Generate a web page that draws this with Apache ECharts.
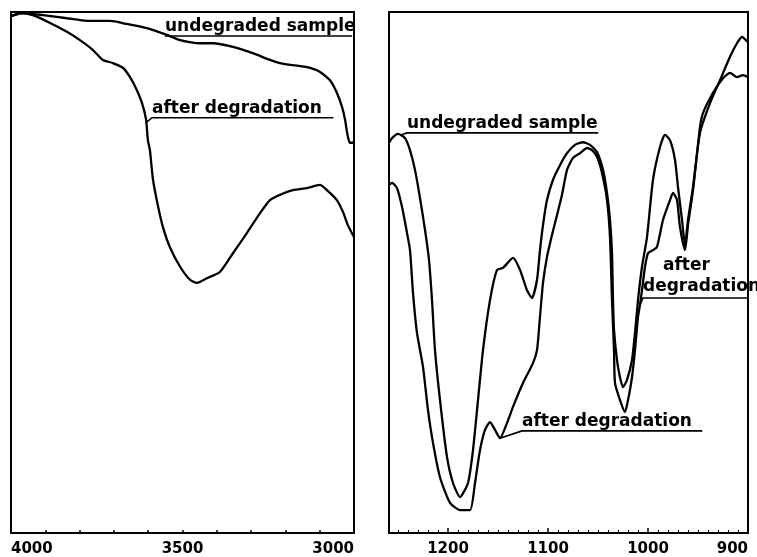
<!DOCTYPE html>
<html>
<head>
<meta charset="utf-8">
<script src="https://cdn.jsdelivr.net/npm/echarts/dist/echarts.min.js"></script>
<style>
html, body { margin: 0; padding: 0; background: #fff; }
#chart { width: 757px; height: 557px; }
</style>
</head>
<body>
<div id="chart"></div>
<script>
// tick labels shown on the two wavenumber axes
var leftTicks = [4000, 3500, 3000];
var rightTicks = [1200, 1100, 1000, 900];

// left panel: [wavenumber, transmittance %]
var leftUndegraded = [
    [4000, 99.2], [3965, 99.8], [3907, 99.4], [3837, 98.8], [3778, 98.3], [3711, 98.3],
    [3662, 97.7], [3604, 96.9], [3545, 95.6], [3507, 94.6], [3449, 94.0], [3411, 94.0],
    [3353, 93.3], [3295, 92.1], [3245, 90.8], [3216, 90.2], [3178, 89.8], [3137, 89.4],
    [3099, 88.5], [3070, 86.9], [3050, 84.5], [3035, 81.8], [3026, 79.3], [3020, 76.8],
    [3012, 74.9], [3000, 74.9]
];
var leftDegraded = [
    [4000, 99.2], [3974, 99.8], [3936, 99.4], [3886, 97.9], [3837, 96.2], [3799, 94.6],
    [3761, 92.7], [3732, 90.8], [3703, 90.2], [3674, 89.3], [3653, 87.5], [3633, 85.0],
    [3618, 82.5], [3606, 79.3], [3601, 75.4], [3595, 73.5], [3586, 67.8], [3571, 62.6],
    [3557, 58.7], [3537, 54.9], [3507, 51.1], [3478, 48.6], [3458, 48.0], [3429, 48.9],
    [3391, 50.1], [3353, 53.7], [3312, 57.6], [3274, 61.4], [3245, 63.9], [3216, 64.9],
    [3178, 65.8], [3137, 66.2], [3099, 66.8], [3079, 65.8], [3050, 63.9], [3032, 61.6],
    [3018, 59.1], [3000, 56.8]
];

// right panel
var rightUndegraded = [
    [1259, 74.9], [1256, 75.8], [1250, 76.6], [1243, 75.8], [1238, 73.5], [1233, 69.7],
    [1228, 64.3], [1223, 58.2], [1219, 52.4], [1216, 44.7], [1213, 35.1], [1208, 25.5],
    [1201, 14.6], [1195, 9.6], [1188, 6.9], [1180, 9.6], [1175, 15.9], [1170, 25.5],
    [1165, 35.1], [1158, 44.7], [1151, 50.5], [1145, 50.9], [1135, 52.8], [1128, 50.5],
    [1121, 46.6], [1116, 45.1], [1111, 48.6], [1108, 54.3], [1105, 59.1], [1101, 63.9],
    [1095, 67.8], [1088, 70.6], [1081, 72.9], [1073, 74.5], [1065, 75.0], [1058, 74.5],
    [1051, 73.1], [1045, 69.7], [1041, 65.3], [1038, 60.1], [1036, 53.7], [1035, 44.7],
    [1034, 39.0], [1031, 33.2], [1028, 29.9], [1025, 28.0], [1021, 29.4], [1016, 33.2],
    [1013, 38.4], [1010, 44.7], [1006, 51.1], [1001, 56.8], [995, 67.8], [988, 74.1],
    [983, 76.4], [978, 75.4], [973, 71.6], [970, 66.4], [966, 60.1], [963, 55.3],
    [960, 60.1], [955, 66.4], [948, 76.8], [938, 82.5], [928, 86.9], [918, 91.4],
    [911, 94.0], [906, 95.2], [900, 94.2]
];
var rightDegraded = [
    [1259, 66.8], [1256, 67.2], [1251, 66.2], [1246, 62.6], [1241, 57.6], [1238, 54.3],
    [1235, 46.1], [1231, 38.4], [1225, 31.9], [1220, 23.6], [1215, 17.3], [1208, 10.7],
    [1198, 5.8], [1188, 4.4], [1178, 4.4], [1173, 9.6], [1168, 15.9], [1163, 19.8],
    [1158, 21.3], [1153, 19.8], [1148, 18.2], [1141, 21.1], [1135, 24.2], [1125, 28.8],
    [1115, 32.6], [1111, 35.1], [1108, 41.5], [1105, 48.0], [1101, 53.0], [1096, 57.2],
    [1091, 61.0], [1086, 64.9], [1081, 69.7], [1075, 72.0], [1068, 72.9], [1061, 73.9],
    [1056, 73.5], [1051, 72.2], [1046, 69.1], [1041, 63.9], [1038, 56.8], [1036, 44.7],
    [1034, 35.1], [1033, 28.8], [1028, 25.5], [1023, 23.2], [1020, 25.5], [1016, 29.9],
    [1013, 35.1], [1010, 41.5], [1008, 43.8], [1006, 46.6], [1003, 51.1], [1000, 53.7],
    [995, 54.3], [991, 54.9], [985, 60.1], [978, 63.9], [975, 65.3], [971, 63.9],
    [968, 58.7], [963, 54.3], [960, 59.1], [955, 65.8], [948, 77.9], [945, 80.6],
    [935, 84.5], [925, 87.3], [918, 88.3], [911, 87.5], [905, 87.9], [900, 87.5]
];

// annotation leader lines (underlines under the notes)
var noteLeftUndeg = [[3551, 95.4], [3006, 95.4]];
var noteLeftDeg = [[3607, 78.7], [3589, 79.7], [3061, 79.7]];
var noteRightUndeg = [[1247, 76.4], [1241, 76.8], [1050, 76.8]];
var noteRightDeg = [[1148, 18.2], [1126, 19.6], [946, 19.6]];
var noteRightDeg2 = [[1008, 43.8], [1005, 45.1], [899, 45.1]];

var myChart = echarts.init(document.getElementById('chart'));

var noteFont = {
    fontFamily: 'DejaVu Sans',
    fontWeight: 'bold',
    fontSize: 17,
    color: '#000'
};

function curve(data, idx) {
    return {
        type: 'line',
        xAxisIndex: idx,
        yAxisIndex: idx,
        data: data,
        showSymbol: false,
        smooth: 0.2,
        lineStyle: { color: '#000', width: 2.3 },
        silent: true
    };
}

function note(points, labelIdx, label, idx) {
    return {
        type: 'line',
        xAxisIndex: idx,
        yAxisIndex: idx,
        symbol: 'circle',
        symbolSize: 1,
        itemStyle: { color: '#000' },
        lineStyle: { color: '#000', width: 1.6 },
        silent: true,
        data: points.map(function(p, i) {
            if (i !== labelIdx) return p;
            return {
                value: p,
                label: Object.assign({
                    show: true,
                    position: 'top',
                    align: 'left',
                    distance: 0
                }, label)
            };
        })
    };
}

function waveAxis(idx, min, max, ticks, minor) {
    return {
        type: 'value',
        gridIndex: idx,
        min: min,
        max: max,
        interval: 100,
        inverse: true,
        axisLine: { lineStyle: { color: '#000', width: 2 } },
        axisTick: { inside: true, length: minor ? 5 : 3, lineStyle: { color: '#000', width: 1.5 } },
        minorTick: { show: minor, splitNumber: 10, length: 3, lineStyle: { color: '#000', width: 1 } },
        splitLine: { show: false },
        axisLabel: {
            margin: 9,
            fontFamily: 'DejaVu Sans',
            fontWeight: 'bold',
            fontSize: 15,
            color: '#000',
            showMinLabel: true,
            showMaxLabel: true,
            alignMinLabel: 'right',
            alignMaxLabel: 'left',
            formatter: function(v) {
                return ticks.indexOf(v) >= 0 ? String(v) : '';
            }
        }
    };
}

function valAxis(idx) {
    return { type: 'value', gridIndex: idx, min: 0, max: 100, show: false };
}

option = {
    animation: false,
    backgroundColor: '#fff',
    grid: [
        { left: 11, top: 12, width: 343, height: 521, show: true, borderColor: '#000', borderWidth: 2 },
        { left: 389, top: 12, width: 359, height: 521, show: true, borderColor: '#000', borderWidth: 2 }
    ],
    xAxis: [
        waveAxis(0, 3000, 4000, leftTicks, false),
        waveAxis(1, 900, 1259, rightTicks, true)
    ],
    yAxis: [valAxis(0), valAxis(1)],
    series: [
        curve(leftUndegraded, 0),
        curve(leftDegraded, 0),
        curve(rightUndegraded, 1),
        curve(rightDegraded, 1),
        note(noteLeftUndeg, 0, Object.assign({ formatter: 'undegraded sample' }, noteFont), 0),
        note(noteLeftDeg, 1, Object.assign({ formatter: 'after degradation' }, noteFont), 0),
        note(noteRightUndeg, 1, Object.assign({ formatter: 'undegraded sample' }, noteFont), 1),
        note(noteRightDeg, 1, Object.assign({ formatter: 'after degradation' }, noteFont), 1),
        note(noteRightDeg2, 1, {
            formatter: '{a|after}\n{b|degradation}',
            rich: {
                a: Object.assign({ padding: [0, 0, 0, 20], lineHeight: 21 }, noteFont),
                b: Object.assign({ lineHeight: 21 }, noteFont)
            }
        }, 1)
    ]
};
myChart.setOption(option);
</script>
</body>
</html>
